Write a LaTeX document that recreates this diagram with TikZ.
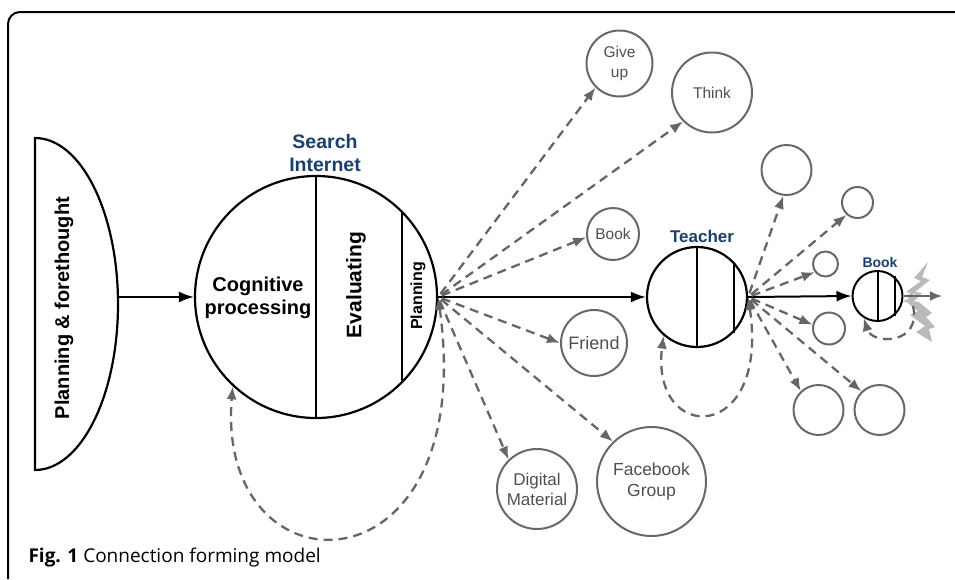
\documentclass[tikz,border=0pt]{standalone}
\usepackage{fontspec}
\setmainfont{Liberation Sans}
\newfontfamily\captionfont{Open Sans}
\usetikzlibrary{arrows.meta,positioning}
\newcommand{\fs}[2]{\fontsize{#1}{#2}\selectfont}
\definecolor{colorLabel}{HTML}{1B3F6E}
\definecolor{colorRing}{HTML}{686868}
\definecolor{colorLink}{HTML}{666666}
\definecolor{colorText}{HTML}{4F4F4F}
\definecolor{colorBurst}{HTML}{BABABA}

\begin{document}
\begin{tikzpicture}[x=1pt,y=-1pt,>={Latex[length=13pt,width=10pt]},every node/.append style={align=center},stage/.style={circle,draw,line width=2.2pt,inner sep=0pt},sat/.style={circle,draw=colorRing,line width=2pt,inner sep=0pt,text=colorText},link/.style={->,draw=colorLink,line width=2.3pt,dash pattern=on 9pt off 6pt,shorten <=4pt},flow/.style={-{Latex[length=15pt,width=11pt]},line width=2pt},tag/.style={text=colorLabel},]
    \useasboundingbox (0,0) rectangle (955,579);
    \draw[line width=2pt] (8,579) -- (8,24) arc[start angle=180,end angle=90,radius=12pt] -- (955,12);
    % planning and forethought
    \draw[line width=2.2pt] (35,138) arc[start angle=90,end angle=-90,x radius=83pt,y radius=166pt] -- cycle;
    \node [rotate=90, font=\bfseries\fs{20}{24}] (PF) at (64,308) {Planning \& forethought};
    \coordinate (pfout) at (118,297);
    % search internet
    \node [stage, minimum size=242pt] (SI) at (316,297) {};
    \draw[line width=2.2pt] (SI.north) -- (SI.south);
    \draw[line width=2.2pt] (SI.45.4) -- (SI.-45.4);
    \node [tag, font=\bfseries\fs{19.5}{23}] (SIlabel) at (325,153) {Search\\Internet};
    \node [font=\bfseries\fs{20}{23}] (cog) at (258,298) {Cognitive\\processing};
    \node [rotate=90, font=\bfseries\fs{21}{24}] (eval) at (356,285) {Evaluating};
    \node [rotate=90, font=\bfseries\fs{16}{19}] (plan) at (418,296) {Planning};
    % teacher and book
    \node [stage, minimum size=100pt] (T) at (697,297) {};
    \draw[line width=2.2pt] (T.north) -- (T.south);
    \draw[line width=2.2pt] (T.44) -- (T.-44);
    \node [tag, font=\bfseries\fs{17}{20}] (Tlabel) at (702,236) {Teacher};
    \node [stage, minimum size=50pt, line width=2pt] (B) at (877.5,296) {};
    \draw[line width=2pt] (B.north) -- (B.south);
    \draw[line width=2pt] (B.49) -- (B.-49);
    \node [tag, font=\bfseries\fs{14}{17}] (Blabel) at (880,262) {Book};
    \path[flow] (pfout) edge (SI.west);
    \path[flow] (SI.east) edge (T.west);
    \path[flow] (T.east) edge (B.west);
    % options after search
    \node [sat, minimum size=66pt, font=\fs{15.5}{20}] (giveup) at (619.5,63.5) {Give\\up};
    \node [sat, minimum size=80pt, font=\fs{15.5}{19}] (think) at (712,92.5) {Think};
    \node [sat, minimum size=52pt, font=\fs{15.5}{19}] (book) at (613,234) {Book};
    \node [sat, minimum size=66pt, font=\fs{18}{21}] (friend) at (594,343) {Friend};
    \node [sat, minimum size=80pt, font=\fs{17}{20}] (digital) at (537,489) {Digital\\Material};
    \node [sat, minimum size=109pt, font=\fs{17.5}{21}] (facebook) at (651.5,481.5) {Facebook\\Group};
    \foreach \s/\a in {giveup/-135,think/-135,book/-173,friend/180,digital/134,facebook/134}
        \draw[link] (SI.east) -- (\s.\a);
    \draw[link, <->, shorten <=0pt] (SI.east) .. controls (480,600) and (215,600) .. (SI.-133);
    % options after teacher
    \node [sat, minimum size=50pt] (opt1) at (786.5,170) {};
    \node [sat, minimum size=31pt] (opt2) at (857.5,202.5) {};
    \node [sat, minimum size=25pt] (opt3) at (825.5,264) {};
    \node [sat, minimum size=32pt] (opt4) at (829,328.5) {};
    \node [sat, minimum size=50pt] (opt5) at (818.5,410) {};
    \node [sat, minimum size=50pt] (opt6) at (879.5,410) {};
    \foreach \s/\a in {opt1/-97,opt2/-132,opt3/-143,opt4/167,opt5/133,opt6/134}
        \draw[link] (T.east) -- (\s.\a);
    \draw[link, <->, shorten <=0pt] (T.east) .. controls (770,445) and (650,445) .. (T.-131);
    % after book
    \fill[colorBurst] (928,262) -- (914,278) -- (921,281) -- (906,292) -- (916,294) -- (903,302) -- (914,301) -- (922,293) -- (915,292) -- (930,280) -- (922,277) -- cycle;
    \fill[colorBurst] (904,300) -- (918,311) -- (910,315) -- (925,326) -- (916,332) -- (932,342) -- (929,329) -- (935,327) -- (926,317) -- (932,313) -- (919,302) -- cycle;
    \coordinate (burst) at (920,296);
    \coordinate (bookout) at (942,296);
    \coordinate (loopin) at (913,306);
    \draw[-{Latex[length=10pt,width=9pt]}, colorBurst, line width=2pt] (burst) -- (B.east);
    \draw[-{Latex[length=12pt,width=10pt]}, colorLink, line width=1.8pt] (B.east) -- (bookout);
    \draw[link, shorten <=0pt] (loopin) .. controls (922,345) and (872,345) .. (B.-122);
    % caption
    \node [anchor=base west, font=\captionfont\fs{19}{23}] (cap) at (25,562) {\textbf{Fig. 1} Connection forming model};
\end{tikzpicture}
\end{document}
